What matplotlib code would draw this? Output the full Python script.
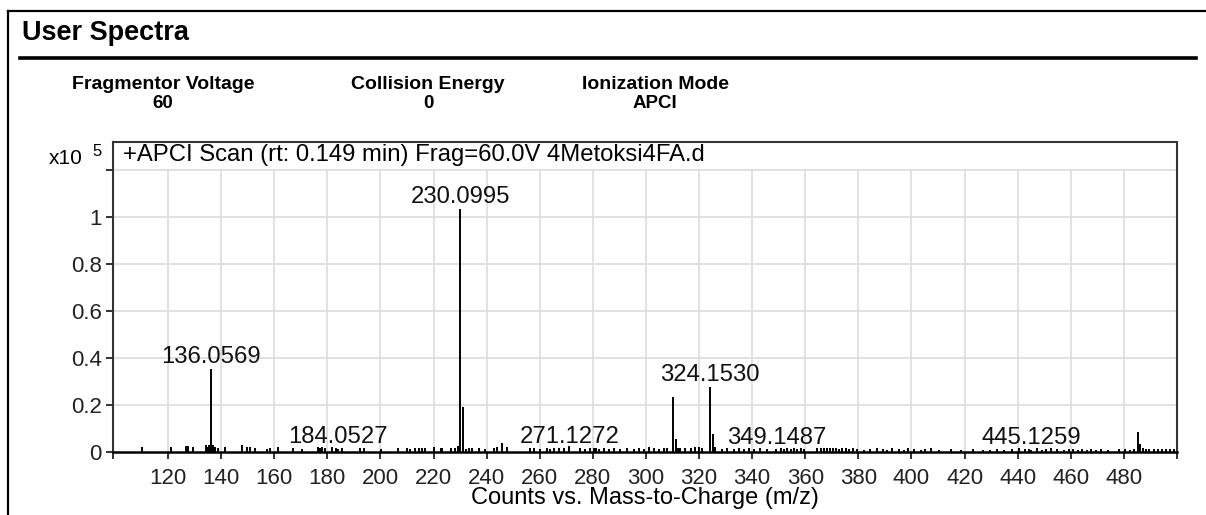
import numpy as np
import matplotlib
matplotlib.use("Agg")
import matplotlib.pyplot as plt
import matplotlib.transforms as mtransforms
from matplotlib.lines import Line2D

plt.rcParams['font.family'] = ['Liberation Sans', 'DejaVu Sans']

# labelled peaks (m/z, counts x10^5)
label_mz = [136.0569, 184.0527, 230.0995, 271.1272, 324.1530, 349.1487, 445.1259]
label_h = [0.355, 0.014, 1.035, 0.016, 0.277, 0.012, 0.010]

# other strong peaks
main_mz = [135.05, 137.06, 229.10, 231.10, 232.10, 310.14, 311.14, 312.15,
           325.16, 326.16, 485.20, 486.20, 487.20, 488.20]
main_h = [0.020, 0.030, 0.025, 0.193, 0.012, 0.235, 0.055, 0.015,
          0.077, 0.020, 0.085, 0.032, 0.018, 0.012]

# small noise sticks read along the baseline
noise_mz = [110.3, 121.1, 126.8, 127.5, 129.3, 134.3, 135.6, 136.8, 137.7, 139.0,
            141.5, 147.8, 149.7, 150.9, 152.8, 157.2, 158.4, 161.3, 167.1, 170.4,
            176.4, 177.2, 178.1, 179.0, 181.7, 183.1, 185.6, 192.2, 193.8, 200.2,
            206.5, 210.1, 211.2, 213.1, 214.4, 215.7, 216.9, 220.0, 222.7, 223.2,
            226.6, 228.0, 233.2, 234.5, 237.0, 239.5, 242.6, 243.9, 245.8, 247.7,
            256.5, 257.7, 260.2, 262.7, 264.0, 265.2, 267.1, 269.0, 270.9, 275.3,
            277.2, 279.1, 280.3, 281.2, 282.2, 284.1, 286.0, 287.9, 290.4, 292.9,
            295.4, 297.3, 299.2, 301.0, 302.9, 304.8, 306.7, 308.0, 313.0, 314.9,
            316.8, 318.6, 319.9, 321.2, 328.7, 330.6, 333.1, 335.0, 336.9, 338.7,
            340.6, 343.1, 345.7, 350.7, 352.0, 353.2, 354.5, 355.7, 357.0, 358.4,
            359.6, 364.6, 365.8, 367.0, 368.1, 369.2, 370.4, 371.5, 372.7, 374.0,
            375.3, 376.5, 378.0, 379.6, 382.1, 384.4, 387.0, 389.2, 390.6, 392.5,
            395.3, 397.1, 398.6, 401.0, 403.6, 405.1, 407.5, 410.2, 415.0, 418.6,
            423.3, 426.8, 429.5, 432.1, 434.8, 438.0, 440.6, 442.8, 444.1, 447.3,
            449.0, 450.8, 452.4, 454.7, 457.5, 459.2, 461.0, 462.6, 464.3, 466.0,
            467.7, 469.4, 471.2, 474.0, 478.3, 480.6, 482.4, 483.8, 489.6, 491.3,
            492.8, 494.4, 496.0, 497.5, 499.0]
noise_h = [0.020, 0.020, 0.025, 0.025, 0.020, 0.030, 0.030, 0.025, 0.020, 0.015,
           0.020, 0.030, 0.020, 0.020, 0.015, 0.012, 0.015, 0.020, 0.015, 0.012,
           0.020, 0.018, 0.020, 0.015, 0.020, 0.018, 0.015, 0.018, 0.015, 0.012,
           0.015, 0.015, 0.012, 0.018, 0.015, 0.015, 0.015, 0.020, 0.015, 0.015,
           0.018, 0.015, 0.015, 0.015, 0.015, 0.012, 0.015, 0.020, 0.040, 0.020,
           0.015, 0.015, 0.012, 0.015, 0.012, 0.015, 0.015, 0.015, 0.025, 0.015,
           0.012, 0.015, 0.018, 0.015, 0.012, 0.015, 0.012, 0.015, 0.012, 0.015,
           0.012, 0.015, 0.012, 0.020, 0.015, 0.012, 0.015, 0.018, 0.018, 0.015,
           0.015, 0.020, 0.022, 0.015, 0.012, 0.015, 0.012, 0.015, 0.012, 0.015,
           0.012, 0.015, 0.012, 0.015, 0.012, 0.015, 0.012, 0.015, 0.012, 0.015,
           0.012, 0.015, 0.015, 0.018, 0.015, 0.015, 0.015, 0.015, 0.012, 0.015,
           0.015, 0.012, 0.015, 0.012, 0.010, 0.012, 0.015, 0.012, 0.010, 0.015,
           0.012, 0.010, 0.015, 0.012, 0.010, 0.012, 0.015, 0.010, 0.012, 0.010,
           0.012, 0.010, 0.010, 0.012, 0.010, 0.012, 0.015, 0.012, 0.012, 0.015,
           0.010, 0.012, 0.015, 0.012, 0.010, 0.012, 0.012, 0.010, 0.012, 0.010,
           0.012, 0.010, 0.012, 0.010, 0.012, 0.012, 0.010, 0.012, 0.012, 0.012,
           0.012, 0.012, 0.012, 0.012, 0.012]

xticks = list(range(120, 481, 20))
yticks = [0, 0.2, 0.4, 0.6, 0.8, 1.0, 1.2]
ytick_labels = ['0', '0.2', '0.4', '0.6', '0.8', '1', '']
x_min, x_max = 99.3, 500.0
y_max = 1.319

header_names = ['Fragmentor Voltage', 'Collision Energy', 'Ionization Mode']
header_values = ['60', '0', 'APCI']
header_x = [163, 428, 655]

W, H = 1206, 515
fig = plt.figure(figsize=(W / 100, H / 100), dpi=100)
ax = fig.add_axes([113 / W, 63 / H, 1064 / W, 310 / H])

grid_c = '#dedede'
ax.hlines(yticks[1:], x_min, x_max, color=grid_c, lw=1.3, zorder=0)
ax.vlines(xticks, 0, 1.2, color=grid_c, lw=1.3, zorder=0)

all_mz = noise_mz + main_mz + label_mz
all_h = noise_h + main_h + label_h
ax.vlines(all_mz, 0, all_h, color='black', lw=1.4, zorder=2)

for mz, h in zip(label_mz, label_h):
    ax.text(mz, h + 0.024, f'{mz:.4f}', ha='center', va='baseline',
            fontsize=17.2, color='#111111')

title_tr = mtransforms.blended_transform_factory(ax.transAxes, ax.transData)
ax.text(0.0094, 1.262, '+APCI Scan (rt: 0.149 min) Frag=60.0V 4Metoksi4FA.d',
        transform=title_tr, fontsize=17.2, va='center', ha='left')

ax.set_xlim(x_min, x_max)
ax.set_ylim(0, y_max)
ax.set_xticks([x_min] + xticks + [x_max])
ax.set_xticklabels([''] + [str(t) for t in xticks] + [''])
ax.set_yticks(yticks)
ax.set_yticklabels(ytick_labels)
ax.tick_params(axis='x', direction='out', length=5, width=1.3, pad=6.5,
               labelsize=16, colors='#222222')
ax.tick_params(axis='y', direction='out', length=5, width=1.3, pad=3,
               labelsize=16, colors='#222222')

for side in ['left', 'right', 'top']:
    ax.spines[side].set_color('#333333')
    ax.spines[side].set_linewidth(1.5)
ax.spines['bottom'].set_color('black')
ax.spines['bottom'].set_linewidth(1.8)

fig.text(645 / W, 1 - 498 / H, 'Counts vs. Mass-to-Charge (m/z)',
         ha='center', va='center', fontsize=17)
fig.text(83 / W, 1 - 158 / H, 'x10', ha='right', va='center', fontsize=15)
fig.text(92 / W, 1 - 152 / H, '5', ha='left', va='center', fontsize=12)

# report header
fig.text(22 / W, 1 - 33 / H, 'User Spectra', ha='left', va='center',
         fontsize=19.5, fontweight='bold')
for name, val, hx in zip(header_names, header_values, header_x):
    fig.text(hx / W, 1 - 84 / H, name, ha='center', va='center',
             fontsize=14, fontweight='bold')
    fig.text(hx / W, 1 - 103 / H, val, ha='center', va='center',
             fontsize=13.5, fontweight='bold')

fig.add_artist(Line2D([20 / W, 1196 / W], [1 - 58 / H] * 2, color='black', lw=2.6))
fig.add_artist(Line2D([8 / W, 1], [1 - 10.5 / H] * 2, color='black', lw=1.6))
fig.add_artist(Line2D([8 / W, 8 / W], [0, 1 - 10.5 / H], color='black', lw=1.6))

fig.savefig('out.png', dpi=100)
